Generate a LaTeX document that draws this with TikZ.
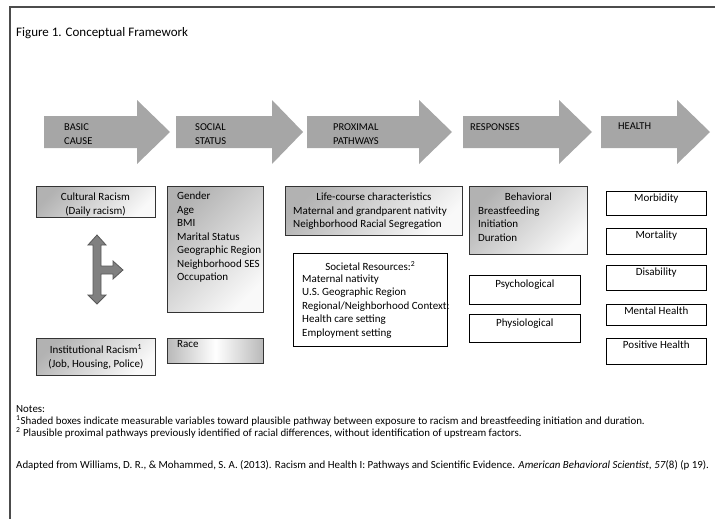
\documentclass[tikz,border=0pt]{standalone}
\usepackage{fontspec}
\setmainfont{Carlito}
\usetikzlibrary{positioning}
\definecolor{arrowgray}{RGB}{166,166,166}
\definecolor{bargray}{RGB}{128,128,128}

\begin{document}
\begin{tikzpicture}[x=1pt,y=-1pt,
  txt/.style={font=\fontsize{11}{13.5}\selectfont,inner sep=0pt,align=left},
  captxt/.style={font=\fontsize{10.5}{14}\selectfont,inner sep=0pt,align=left,anchor=north west},
  notetxt/.style={font=\fontsize{10.9}{12}\selectfont,inner sep=0pt,anchor=west},
  plainbox/.style={draw=black,line width=.6pt,fill=white,anchor=north west,inner sep=0pt},
  shadebox/.style={draw=black!80,line width=.9pt,top color=gray!60,bottom color=gray!5,shading angle=45,anchor=north west,inner sep=0pt}]
\useasboundingbox (0,0) rectangle (715,519);
\draw[line width=1.2pt,black!70] (10,519) -- (10,7) -- (715,7);
\node[anchor=west,font=\fontsize{13}{15}\selectfont,inner sep=0pt] (title) at (16,33) {Figure 1. Conceptual Framework};

% stage arrows
\foreach \x/\h/\t/\lx/\lab [count=\i] in {44/137/170/64/{BASIC\\CAUSE},176/272/303/195/{SOCIAL\\STATUS},307/419/452/333/{PROXIMAL\\PATHWAYS},463/559/592/470/{RESPONSES},601/677/710/618/{HEALTH}}
{
  \fill[arrowgray] (\x,116) -- (\h,116) -- (\h,100) -- (\t,132) -- (\h,164) -- (\h,148) -- (\x,148) -- cycle;
  \node[captxt] (stage\i) at (\lx,123) {\lab};
}

% basic cause
\node[shadebox,minimum width=119,minimum height=31] (cultural) at (36,186) {};
\node[txt,align=center,anchor=north] (culturalT) at (95.5,193) {Cultural Racism\\(Daily racism)};
\node[shadebox,minimum width=119,minimum height=37] (institutional) at (36,338) {};
\node[txt,align=center] (institutionalT) at (institutional.center) {Institutional Racism\textsuperscript{1}\\(Job, Housing, Police)};
\filldraw[fill=bargray,draw=black!65,line width=.8pt,shift={(97,270)}]
  (0,-35) -- (9,-25) -- (4,-25) -- (4,-4) -- (16,-4) -- (16,-9) -- (26,0) -- (16,9) -- (16,4) -- (4,4)
  -- (4,25) -- (9,25) -- (0,34) -- (-9,25) -- (-4,25) -- (-4,-25) -- (-9,-25) -- cycle;

% social status
\node[shadebox,minimum width=96,minimum height=126] (gender) at (167,186) {};
\node[txt,anchor=north west] (genderT) at (177,192) {Gender\\Age\\BMI\\Marital Status\\Geographic Region\\Neighborhood SES\\Occupation};
\node[shadebox,left color=gray!55,right color=gray!55,middle color=white,minimum width=96,minimum height=25] (race) at (167,338) {};
\node[txt,anchor=north west] (raceT) at (177,340) {Race};

% proximal pathways
\node[shadebox,minimum width=177,minimum height=49] (life) at (285,186) {};
\node[txt,anchor=north] (lifeH) at (life.north |- 0,193) {Life-course characteristics};
\node[txt,anchor=north west] (lifeT) at (293,206.5) {Maternal and grandparent nativity\\Neighborhood Racial Segregation};
\node[plainbox,minimum width=154,minimum height=93] (societal) at (293,253) {};
\node[txt,anchor=north] (societalH) at (societal.north |- 0,261) {Societal Resources:\textsuperscript{2}};
\node[txt,anchor=north west] (societalT) at (302,274.5) {Maternal nativity\\U.S. Geographic Region\\Regional/Neighborhood Context:\\Health care setting\\Employment setting};

% responses
\node[shadebox,minimum width=118,minimum height=68] (behav) at (469,186) {};
\node[txt,anchor=north] (behavH) at (behav.north |- 0,193) {Behavioral};
\node[txt,anchor=north west] (behavT) at (478,206.5) {Breastfeeding\\Initiation\\Duration};
\node[plainbox,minimum width=111,minimum height=29] (psycho) at (469,275) {};
\node[txt,anchor=north] (psychoT) at ([yshift=-5]psycho.north) {Psychological};
\node[plainbox,minimum width=111,minimum height=28] (physio) at (469,314) {};
\node[txt,anchor=north] (physioT) at ([yshift=-5]physio.north) {Physiological};

% health
\foreach \y/\hh/\lab [count=\i] in {191/24/Morbidity,228/26/Mortality,265/25/Disability,304/21/Mental Health,338/26/Positive Health}
{
  \node[plainbox,minimum width=100,minimum height=\hh] (out\i) at (606,\y) {};
  \node[txt,anchor=north] (outT\i) at ([yshift=-3]out\i.north) {\lab};
}

% notes
\node[notetxt] (notes) at (16,409) {Notes:};
\node[notetxt] (note1) at (16,421) {\textsuperscript{1}Shaded boxes indicate measurable variables toward plausible pathway between exposure to racism and breastfeeding initiation and duration.};
\node[notetxt] (note2) at (16,433) {\textsuperscript{2} Plausible proximal pathways previously identified of racial differences, without identification of upstream factors.};
\node[notetxt] (source) at (16,465) {Adapted from Williams, D. R., \& Mohammed, S. A. (2013). Racism and Health I: Pathways and Scientific Evidence. \textit{American Behavioral Scientist, 57}(8) (p 19).};
\end{tikzpicture}
\end{document}
